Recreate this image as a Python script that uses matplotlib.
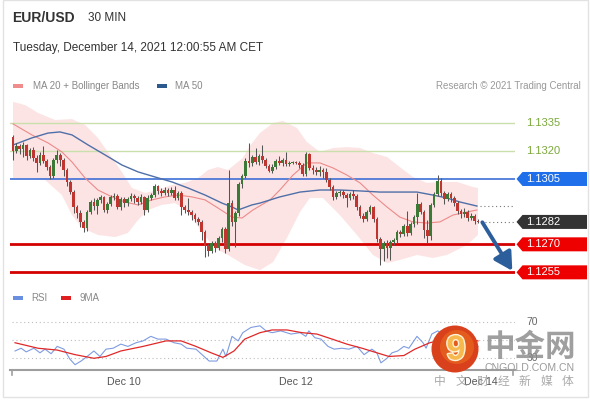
import numpy as np
import matplotlib.pyplot as plt
from matplotlib import transforms
from matplotlib.patches import Polygon, Circle, Rectangle
import matplotlib.patheffects as pe

plt.rcParams['font.family'] = ['Liberation Sans', 'DejaVu Sans']

# ---- price data (EUR/USD, 30 min candles) ----
first_open = 1.13275
closes = [
    1.13200, 1.13227, 1.13211, 1.13232, 1.13173, 1.13205, 1.13162, 1.13136, 1.13179, 1.13146,
    1.13114, 1.13066, 1.13152, 1.13179, 1.13152, 1.13098, 1.13034, 1.12980, 1.12900, 1.12868,
    1.12820, 1.12788, 1.12873, 1.12927, 1.12905, 1.12938, 1.12954, 1.12884, 1.12916, 1.12954,
    1.12959, 1.12900, 1.12943, 1.12921, 1.12943, 1.12959, 1.12948, 1.12927, 1.12954, 1.12884,
    1.12948, 1.12964, 1.13013, 1.12986, 1.12975, 1.12991, 1.12975, 1.12991, 1.12948, 1.12975,
    1.12900, 1.12884, 1.12873, 1.12857, 1.12836, 1.12820, 1.12766, 1.12691, 1.12664, 1.12707,
    1.12680, 1.12734, 1.12782, 1.12675, 1.12921, 1.12820, 1.12868, 1.13023, 1.13066, 1.13146,
    1.13136, 1.13168, 1.13141, 1.13173, 1.13152, 1.13120, 1.13093, 1.13114, 1.13146, 1.13136,
    1.13152, 1.13130, 1.13136, 1.13141, 1.13136, 1.13125, 1.13077, 1.13184, 1.13109, 1.13098,
    1.13088, 1.13098, 1.13088, 1.13045, 1.13007, 1.12954, 1.12975, 1.12980, 1.12964, 1.12948,
    1.12970, 1.12959, 1.12900, 1.12852, 1.12836, 1.12873, 1.12900, 1.12836, 1.12729, 1.12675,
    1.12707, 1.12680, 1.12713, 1.12723, 1.12766, 1.12755, 1.12798, 1.12761, 1.12809, 1.12846,
    1.12916, 1.12873, 1.12777, 1.12745, 1.12911, 1.12970, 1.13039, 1.12975, 1.12943, 1.12970,
    1.12948, 1.12921, 1.12879, 1.12863, 1.12873, 1.12841, 1.12852, 1.12825, 1.12820,
]
highs = [
    1.13286, 1.13243, 1.13237, 1.13248, 1.13237, 1.13216, 1.13221, 1.13179, 1.13195, 1.13227,
    1.13157, 1.13125, 1.13162, 1.13205, 1.13189, 1.13162, 1.13109, 1.13045, 1.12991, 1.12911,
    1.12884, 1.12830, 1.12884, 1.12938, 1.12948, 1.12948, 1.12964, 1.12959, 1.12927, 1.12964,
    1.12975, 1.12970, 1.12954, 1.12954, 1.12954, 1.12975, 1.12970, 1.12959, 1.12970, 1.12959,
    1.12964, 1.12975, 1.13023, 1.13018, 1.13002, 1.13007, 1.13002, 1.13007, 1.13013, 1.12986,
    1.12986, 1.12911, 1.12948, 1.12884, 1.12868, 1.12846, 1.12830, 1.12777, 1.12702, 1.12718,
    1.12718, 1.12745, 1.12793, 1.12793, 1.13098, 1.12938, 1.12879, 1.13034, 1.13077, 1.13162,
    1.13243, 1.13179, 1.13216, 1.13184, 1.13232, 1.13162, 1.13130, 1.13130, 1.13157, 1.13173,
    1.13162, 1.13195, 1.13146, 1.13146, 1.13146, 1.13146, 1.13136, 1.13195, 1.13189, 1.13125,
    1.13114, 1.13120, 1.13109, 1.13109, 1.13055, 1.13018, 1.12986, 1.12991, 1.12991, 1.12975,
    1.12980, 1.12991, 1.12970, 1.12911, 1.12868, 1.12884, 1.12911, 1.12905, 1.12846, 1.12739,
    1.12718, 1.12723, 1.12723, 1.12734, 1.12777, 1.12777, 1.12809, 1.12879, 1.12820, 1.12857,
    1.12975, 1.12927, 1.12884, 1.12830, 1.12921, 1.12980, 1.13071, 1.13055, 1.12986, 1.12980,
    1.12980, 1.12959, 1.12932, 1.12889, 1.12895, 1.12884, 1.12868, 1.12863, 1.12836,
]
lows = [
    1.13152, 1.13189, 1.13184, 1.13168, 1.13152, 1.13162, 1.13146, 1.13088, 1.13125, 1.13136,
    1.13098, 1.13050, 1.13055, 1.13136, 1.13120, 1.13066, 1.13013, 1.12970, 1.12868, 1.12841,
    1.12793, 1.12766, 1.12771, 1.12863, 1.12884, 1.12863, 1.12921, 1.12873, 1.12868, 1.12905,
    1.12938, 1.12889, 1.12884, 1.12900, 1.12905, 1.12932, 1.12921, 1.12911, 1.12916, 1.12857,
    1.12873, 1.12938, 1.12954, 1.12970, 1.12959, 1.12964, 1.12959, 1.12964, 1.12938, 1.12938,
    1.12857, 1.12868, 1.12857, 1.12830, 1.12820, 1.12804, 1.12723, 1.12632, 1.12638, 1.12654,
    1.12659, 1.12670, 1.12713, 1.12654, 1.12664, 1.12798, 1.12686, 1.12852, 1.13002, 1.13055,
    1.13114, 1.13120, 1.13130, 1.13125, 1.13136, 1.13109, 1.13088, 1.13082, 1.13104, 1.13125,
    1.13120, 1.13120, 1.13120, 1.13130, 1.13130, 1.13109, 1.13066, 1.13066, 1.13098, 1.13077,
    1.13071, 1.13066, 1.13055, 1.13034, 1.12991, 1.12938, 1.12943, 1.12959, 1.12948, 1.12900,
    1.12938, 1.12943, 1.12884, 1.12841, 1.12820, 1.12825, 1.12863, 1.12820, 1.12713, 1.12589,
    1.12611, 1.12627, 1.12616, 1.12696, 1.12707, 1.12739, 1.12745, 1.12745, 1.12750, 1.12793,
    1.12809, 1.12863, 1.12734, 1.12707, 1.12723, 1.12900, 1.12959, 1.12959, 1.12916, 1.12932,
    1.12927, 1.12905, 1.12863, 1.12841, 1.12846, 1.12825, 1.12830, 1.12809, 1.12814,
]

# indicators (candle index, price)
ma20_idx = [0, 5.6, 10.4, 14.5, 17.5, 21.4, 25.2, 29.4, 33.2, 37.1, 41.2, 45.1, 49.0, 53.1,
            57.0, 60.8, 65.0, 68.0, 71.2, 76.3, 79.2, 83.1, 87.2, 91.1, 95.0, 99.1, 103.0,
            106.8, 111.0, 114.8, 118.7, 122.8, 126.7, 130.6, 134.7, 137.7]
ma20 = [1.13345, 1.13286, 1.13243, 1.13195, 1.13141, 1.13055, 1.12991, 1.12954, 1.12927,
        1.12911, 1.12938, 1.12954, 1.12964, 1.12954, 1.12938, 1.12895, 1.12846, 1.12841,
        1.12884, 1.12938, 1.12991, 1.13071, 1.13136, 1.13136, 1.13109, 1.13071, 1.13029,
        1.12964, 1.12900, 1.12846, 1.12820, 1.12814, 1.12820, 1.12857, 1.12873, 1.12884]

ma50_idx = [0, 5.6, 10.4, 13.9, 17.5, 22.3, 27.3, 32.3, 37.1, 42.1, 47.2, 51.9, 57.0, 62.0,
            65.0, 66.8, 70.9, 73.3, 79.2, 85.2, 91.1, 97.0, 103.0, 108.9, 114.8, 119.9,
            124.6, 128.8, 132.6, 137.7]
ma50 = [1.13232, 1.13270, 1.13296, 1.13302, 1.13286, 1.13232, 1.13179, 1.13125, 1.13088,
        1.13061, 1.13034, 1.13002, 1.12964, 1.12921, 1.12900, 1.12884, 1.12911, 1.12921,
        1.12954, 1.12980, 1.12991, 1.12991, 1.12986, 1.12980, 1.12980, 1.12980, 1.12964,
        1.12948, 1.12927, 1.12905]

bb_up_idx = [0, 3.6, 7.4, 12.5, 17.5, 21.4, 25.2, 29.4, 32.3, 35.3, 39.2, 43.0, 47.2, 51.0,
             54.9, 57.9, 60.8, 63.8, 68.2, 70.3, 73.3, 77.2, 80.1, 84.3, 87.2, 91.1, 95.0,
             99.1, 103.0, 106.8, 111.0, 114.8, 118.7, 122.8, 126.7, 131.8, 136.5, 138]
bb_up = [1.13463, 1.13446, 1.13404, 1.13366, 1.13371, 1.13339, 1.13270, 1.13162, 1.13088,
         1.13002, 1.12975, 1.12991, 1.13018, 1.13029, 1.13055, 1.13098, 1.13114, 1.13098,
         1.13162, 1.13227, 1.13296, 1.13350, 1.13361, 1.13323, 1.13248, 1.13195, 1.13216,
         1.13221, 1.13216, 1.13189, 1.13168, 1.13114, 1.13061, 1.13029, 1.13034, 1.13034,
         1.13007, 1.13002]
bb_low_idx = [0, 5.0, 9.5, 14.5, 17.5, 20.5, 25.2, 30.3, 34.1, 37.1, 40.1, 44.2, 48.1, 51.9,
              56.1, 59.9, 63.8, 68.8, 73.3, 77.2, 81.3, 85.2, 88.1, 92.0, 97.0, 102.1,
              106.8, 111.0, 114.8, 119.9, 124.6, 128.8, 134.7, 138]
bb_low = [1.13055, 1.13055, 1.13045, 1.12964, 1.12857, 1.12788, 1.12750, 1.12739, 1.12761,
          1.12830, 1.12884, 1.12911, 1.12921, 1.12873, 1.12766, 1.12680, 1.12643, 1.12589,
          1.12562, 1.12605, 1.12734, 1.12873, 1.12948, 1.12948, 1.12857, 1.12750, 1.12643,
          1.12600, 1.12616, 1.12643, 1.12627, 1.12643, 1.12696, 1.12750]

# key levels
resistances = [1.1335, 1.1320]
pivot = 1.1305
supports = [1.1270, 1.1255]
target = 1.1255

# RSI panel (candle index, value)
rsi_idx = [0.6, 2.4, 3.9, 6.2, 8.0, 9.5, 11.3, 13.1, 15.1, 16.9, 18.4, 20.2, 22.0, 24.0, 25.8,
           27.6, 29.7, 32.0, 34.1, 36.5, 38.6, 40.9, 43.0, 45.4, 47.8, 49.9, 51.6, 54.3, 56.7,
           58.2, 60.5, 62.3, 63.2, 65.0, 66.8, 68.2, 70.6, 73.3, 75.1, 76.9, 79.5, 82.5, 85.2,
           86.9, 87.8, 89.6, 91.4, 93.5, 95.3, 97.6, 99.7, 102.1, 104.2, 106.5, 108.0, 109.2,
           111.0, 112.5, 114.2, 116.0, 117.5, 119.9, 121.7, 122.6, 124.3, 126.1, 129, 132,
           135, 138]
rsi = [38, 41, 37, 41, 36, 40, 35, 43, 40, 29, 23, 27, 32, 38, 32, 40, 41, 45.5, 43, 47, 49,
       54, 51, 51, 47, 45.5, 41, 40, 32, 27, 27, 40, 32, 54, 49, 58, 63.7, 65.5, 60, 58, 60,
       56.5, 58, 54, 60, 52.5, 51, 43, 40, 41, 40, 43, 34, 40, 36, 25, 30, 36, 38, 43, 41, 54,
       47, 41, 56.5, 60, 52, 47, 45, 43]
rsi_ma_idx = [0.6, 7.4, 13.1, 18.4, 24.0, 27.6, 32.0, 38.6, 45.4, 49.9, 54.3, 58.8, 62.3, 65.6,
              68.8, 73.3, 76.9, 81.3, 85.8, 90.2, 94.7, 99.1, 103.6, 108.0, 111.6, 116.0,
              119.3, 123.7, 126.1, 131, 135, 138]
rsi_ma = [47, 41, 39, 34, 30, 32, 38, 43, 49, 49, 43, 36, 31, 38, 51, 58, 61, 61, 58, 56.5, 51,
          45.5, 41, 36, 32, 33, 40, 47, 49, 52, 51, 49]
rsi_levels = [70, 50, 30]

date_ticks = [33, 84, 139]
date_labels = ['Dec 10', 'Dec 12', 'Dec 14']

W, H = 590, 400
fig = plt.figure(figsize=(W / 100, H / 100), dpi=100)
fig.patch.set_facecolor('white')


def fx(px):
    return px / W


def fy(py):
    return 1 - py / H


XMIN, XMAX = -0.9, 149.0

# ---- price panel ----
ax = fig.add_axes([fx(10), fy(280), fx(505), 180 / H])
ax.set_xlim(XMIN, XMAX)
ax.set_ylim(1.12509, 1.13473)
ax.set_axis_off()

ax.fill(np.r_[bb_up_idx, bb_low_idx[::-1]], np.r_[bb_up, bb_low[::-1]],
        color='#FDE4E4', lw=0, zorder=0)

for lvl in resistances:
    ax.axhline(lvl, color='#C9E0AC', lw=1.0, zorder=1)
ax.axhline(pivot, color='#3D6FD6', lw=1.2, zorder=1)
for lvl in supports:
    ax.axhline(lvl, color='#D40000', lw=2.0, zorder=1)

ax.plot(ma20_idx, ma20, color='#EC8A8A', lw=0.8, zorder=2)
ax.plot(ma50_idx, ma50, color='#4F6FA8', lw=1.0, zorder=2)

closes = np.array(closes)
opens = np.r_[first_open, closes[:-1]]
idx = np.arange(len(closes))
up = closes >= opens
colors = np.where(up, '#3B7A36', '#C0352F')
ax.vlines(idx, lows, highs, color='#555555', lw=0.75, zorder=3)
body = np.where(np.abs(closes - opens) < 0.00003, 0.00003, closes - opens)
ax.bar(idx, body, bottom=opens, width=0.8, color=colors, lw=0, zorder=4)

# dotted extensions to the labels
ax.hlines(ma50[-1], ma50_idx[-1] + 0.8, XMAX, colors='#777777', linestyles=(0, (1, 2.5)), lw=0.8)
ax.hlines(closes[-1], idx[-1] + 0.8, XMAX, colors='#777777', linestyles=(0, (1, 2.5)), lw=0.8)

# projection arrow
ax.annotate('', xy=(148.2, target + 0.00008), xytext=(idx[-1] + 1.3, closes[-1] - 0.00002),
            arrowprops=dict(arrowstyle='-|>,head_width=0.5,head_length=0.9',
                            color='#2D5E9C', lw=2.8, mutation_scale=12, shrinkA=0, shrinkB=0),
            zorder=6)

# right-hand level labels
trans = transforms.blended_transform_factory(fig.transFigure, ax.transData)
half = 7 * (ax.get_ylim()[1] - ax.get_ylim()[0]) / 180


def tag(level, text, color):
    pts = [(fx(516.5), level), (fx(522.5), level + half), (fx(587), level + half),
           (fx(587), level - half), (fx(522.5), level - half)]
    ax.add_patch(Polygon(pts, closed=True, transform=trans, facecolor=color,
                         edgecolor='none', clip_on=False, zorder=7))
    ax.text(fx(526), level, text, transform=trans, color='white', fontsize=8,
            va='center', ha='left', clip_on=False, zorder=8)


for lvl in resistances:
    ax.text(fx(526), lvl, f'{lvl:.4f}', transform=trans, color='#7BA83A', fontsize=8,
            va='center', ha='left', clip_on=False)
tag(pivot, f'{pivot:.4f}', '#1F6FEA')
tag(closes[-1], f'{closes[-1]:.4f}', '#333333')
for lvl in supports:
    tag(lvl, f'{lvl:.4f}', '#EE0000')

# ---- RSI panel ----
rx = fig.add_axes([fx(10), fy(370), fx(505), 60 / H])
rx.set_xlim(XMIN, XMAX)
rx.set_ylim(17.2, 82.8)
for s in ['top', 'right', 'left']:
    rx.spines[s].set_visible(False)
rx.spines['bottom'].set_color('#9E9E9E')
rx.spines['bottom'].set_linewidth(1.5)
rx.set_yticks([])
rx.set_xticks(date_ticks, date_labels)
rx.tick_params(axis='x', length=0, pad=5, labelsize=7.7, labelcolor='#555555')
for xe in [0.004, 0.996]:
    rx.plot([xe, xe], [0, -0.09], transform=rx.transAxes, color='#9E9E9E', lw=1.2,
            clip_on=False)
for lvl in rsi_levels:
    rx.axhline(lvl, xmin=0.004, color='#BDBDBD', lw=0.8, ls=(0, (1, 2.5)))
rtrans = transforms.blended_transform_factory(fig.transFigure, rx.transData)
for lvl in [70, 30]:
    rx.text(fx(532), lvl, str(lvl), transform=rtrans, color='#666666', fontsize=7.5,
            va='center', ha='center', clip_on=False)
rx.plot(rsi_idx, rsi, color='#7F9CE0', lw=0.8)
rx.plot(rsi_ma_idx, rsi_ma, color='#E02828', lw=0.9)

# ---- header and legends ----
fig.text(fx(12), fy(18), 'EUR/USD', fontsize=10, fontweight='bold', color='#333333', va='center')
fig.text(fx(88), fy(18), '30 MIN', fontsize=8.5, color='#333333', va='center')
fig.text(fx(13), fy(48), 'Tuesday, December 14, 2021 12:00:55 AM CET', fontsize=8.5,
         color='#333333', va='center')

fig.patches.append(Rectangle((fx(13), fy(88)), fx(10), 4 / H, transform=fig.transFigure,
                             facecolor='#F08C8C', edgecolor='none'))
fig.text(fx(33), fy(86), 'MA 20 + Bollinger Bands', fontsize=7, color='#888888', va='center')
fig.patches.append(Rectangle((fx(157), fy(88)), fx(10), 4 / H, transform=fig.transFigure,
                             facecolor='#2D5A8E', edgecolor='none'))
fig.text(fx(175), fy(86), 'MA 50', fontsize=7, color='#888888', va='center')
fig.text(fx(581), fy(86), 'Research \u00a9 2021 Trading Central', fontsize=7, color='#999999',
         va='center', ha='right')

fig.patches.append(Rectangle((fx(13), fy(300)), fx(10), 4 / H, transform=fig.transFigure,
                             facecolor='#6A8FE0', edgecolor='none'))
fig.text(fx(31), fy(298), 'RSI', fontsize=7, color='#888888', va='center')
fig.patches.append(Rectangle((fx(61), fy(300)), fx(10), 4 / H, transform=fig.transFigure,
                             facecolor='#E02020', edgecolor='none'))
fig.text(fx(80), fy(298), '9MA', fontsize=7, color='#888888', va='center')

# card border
fig.patches.append(Rectangle((fx(3), fy(397)), fx(585), 397 / H, transform=fig.transFigure,
                             facecolor='none', edgecolor='#E2E2E2', lw=1))

# ---- watermark ----
cx, cy = 455 / 100, (H - 349) / 100
fig.patches.append(Circle((cx, cy), 0.235, transform=fig.dpi_scale_trans,
                          facecolor='#D9401C', edgecolor='none', zorder=10))
fig.patches.append(Circle((cx + 0.02, cy + 0.02), 0.17, transform=fig.dpi_scale_trans,
                          facecolor='#E8621F', edgecolor='none', alpha=0.8, zorder=10))
fig.text(fx(456), fy(350), '9', fontsize=25, fontweight='bold', color='#F7B84E',
         ha='center', va='center', zorder=11,
         path_effects=[pe.withStroke(linewidth=2, foreground='#FFF3DA')])
cjk = ['Noto Sans CJK SC', 'DejaVu Sans']
fig.text(fx(530), fy(347), '中金网', fontsize=22, fontweight='bold', color='#8E8E8E',
         family=cjk, ha='center', va='center', alpha=0.85, zorder=11)
fig.text(fx(530), fy(368), 'CNGOLD.COM.CN', fontsize=7.6, color='#9A9A9A',
         ha='center', va='center', zorder=11)
for k, ch in enumerate('中文财经新媒体'):
    fig.text(fx(440 + k * 21.2), fy(381), ch, fontsize=8.5, color='#A0A0A0', family=cjk,
             ha='center', va='center', alpha=0.9, zorder=11)

fig.savefig('out.png', dpi=100)
